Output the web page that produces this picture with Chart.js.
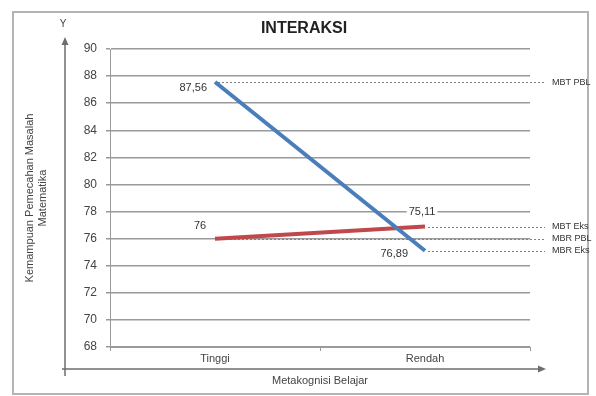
<!DOCTYPE html>
<html>
<head>
<meta charset="utf-8">
<script src="https://cdn.jsdelivr.net/npm/chart.js@4.4.1/dist/chart.umd.min.js"></script>
<style>
  html, body { margin: 0; padding: 0; background: #fff; }
  canvas { display: block; }
</style>
</head>
<body>
<canvas id="chart" width="596" height="396"></canvas>
<script>
// data
const categories = ['Tinggi', 'Rendah'];
const pblValues = [87.56, 75.11];
const eksValues = [76, 76.89];
const pblLabels = ['87,56', '76,89'];
const eksLabels = ['76', '75,11'];
const yMin = 68;
const yMax = 90;
const yStep = 2;
// dotted guide lines: name + [dataset, point] they start from
const refNames = ['MBT PBL', 'MBT Eks', 'MBR PBL', 'MBR Eks'];
const refPoints = [[0, 0], [1, 1], [1, 0], [0, 1]];

const FONT = "'Liberation Sans', Arial, sans-serif";

// frame, arrows, title, dotted lines and value labels
const decor = {
  id: 'decor',
  beforeDatasetsDraw(chart) {
    const ctx = chart.ctx;
    const y = chart.scales.y;
    ctx.save();
    ctx.strokeStyle = '#808080';
    ctx.lineWidth = 1;
    ctx.setLineDash([2, 2]);
    refPoints.forEach(([d, i]) => {
      const pt = chart.getDatasetMeta(d).data[i];
      const value = chart.data.datasets[d].data[i];
      const py = Math.round(y.getPixelForValue(value)) + 0.5;
      ctx.beginPath();
      ctx.moveTo(pt.x + 3, py);
      ctx.lineTo(545, py);
      ctx.stroke();
    });
    ctx.restore();
  },
  afterDraw(chart) {
    const ctx = chart.ctx;
    const y = chart.scales.y;
    ctx.save();

    // outer frame
    ctx.strokeStyle = '#b4b4b4';
    ctx.lineWidth = 2;
    ctx.strokeRect(13, 12, 575, 382);

    // title
    ctx.fillStyle = '#222';
    ctx.font = "bold 16px " + FONT;
    ctx.textAlign = 'center';
    ctx.textBaseline = 'middle';
    ctx.fillText('INTERAKSI', 304, 29);

    // axis arrows
    ctx.strokeStyle = '#6e6e6e';
    ctx.fillStyle = '#6e6e6e';
    ctx.lineWidth = 1.5;
    ctx.beginPath();
    ctx.moveTo(65, 376);
    ctx.lineTo(65, 42);
    ctx.moveTo(62, 369);
    ctx.lineTo(540, 369);
    ctx.stroke();
    ctx.beginPath();
    ctx.moveTo(65, 37); ctx.lineTo(61.5, 45); ctx.lineTo(68.5, 45); ctx.closePath();
    ctx.fill();
    ctx.beginPath();
    ctx.moveTo(546, 369); ctx.lineTo(538, 365.5); ctx.lineTo(538, 372.5); ctx.closePath();
    ctx.fill();
    ctx.font = "10px " + FONT;
    ctx.fillStyle = '#444';
    ctx.fillText('Y', 63, 24);

    // guide line names
    ctx.font = "9px " + FONT;
    ctx.textAlign = 'left';
    ctx.fillStyle = '#333';
    refPoints.forEach(([d, i], k) => {
      const value = chart.data.datasets[d].data[i];
      ctx.fillText(refNames[k], 552, y.getPixelForValue(value));
    });

    // value labels
    const putLabel = (text, x, yy, align) => {
      ctx.font = "11px " + FONT;
      ctx.textAlign = align;
      const w = ctx.measureText(text).width;
      const left = align === 'right' ? x - w : (align === 'center' ? x - w / 2 : x);
      ctx.fillStyle = '#fff';
      ctx.fillRect(left - 2, yy - 7, w + 4, 14);
      ctx.fillStyle = '#333';
      ctx.fillText(text, x, yy);
    };
    const pbl = chart.getDatasetMeta(0).data;
    const eks = chart.getDatasetMeta(1).data;
    putLabel(pblLabels[0], pbl[0].x - 8, pbl[0].y + 6, 'right');
    putLabel(pblLabels[1], pbl[1].x - 17, pbl[1].y + 3, 'right');
    putLabel(eksLabels[0], eks[0].x - 15, eks[0].y - 13, 'center');
    putLabel(eksLabels[1], eks[1].x - 3, eks[1].y - 15, 'center');

    ctx.restore();
  }
};

const ctx = document.getElementById('chart').getContext('2d');
const chart = new Chart(ctx, {
  type: 'line',
  data: {
    labels: categories,
    datasets: [
      {
        label: 'PBL',
        data: pblValues,
        borderColor: '#4a7ebb',
        borderWidth: 4,
        pointRadius: 0,
        tension: 0,
      },
      {
        label: 'Ekspositori',
        data: eksValues,
        borderColor: '#c0484a',
        borderWidth: 4,
        pointRadius: 0,
        tension: 0,
      },
    ],
  },
  options: {
    responsive: false,
    animation: false,
    devicePixelRatio: 1,
    layout: { padding: { top: 49, right: 66, bottom: 0, left: 0 } },
    plugins: {
      legend: { display: false },
      tooltip: { enabled: false },
    },
    scales: {
      x: {
        offset: true,
        afterFit: (s) => { s.height = 49; },
        grid: {
          offset: true,
          drawOnChartArea: false,
          tickLength: 4,
          color: '#9a9a9a',
        },
        border: { display: true, color: '#9a9a9a' },
        ticks: {
          padding: 1,
          color: '#444',
          font: { family: FONT, size: 11 },
        },
        title: {
          display: true,
          text: 'Metakognisi Belajar',
          color: '#444',
          font: { family: FONT, size: 11 },
          padding: { top: 0, bottom: 8 },
        },
      },
      y: {
        min: yMin,
        max: yMax,
        afterFit: (s) => { s.width = 110; },
        grid: {
          color: '#9a9a9a',
          lineWidth: 1.5,
          tickLength: 4,
        },
        border: { display: true, color: '#9a9a9a' },
        ticks: {
          stepSize: yStep,
          padding: 9,
          color: '#444',
          font: { family: FONT, size: 12 },
        },
        title: {
          display: true,
          text: ['Kemampuan Pemecahan Masalah', 'Matematika'],
          color: '#444',
          font: { family: FONT, size: 11 },
          padding: { top: 23, bottom: 0 },
        },
      },
    },
  },
  plugins: [decor],
});
</script>
</body>
</html>
